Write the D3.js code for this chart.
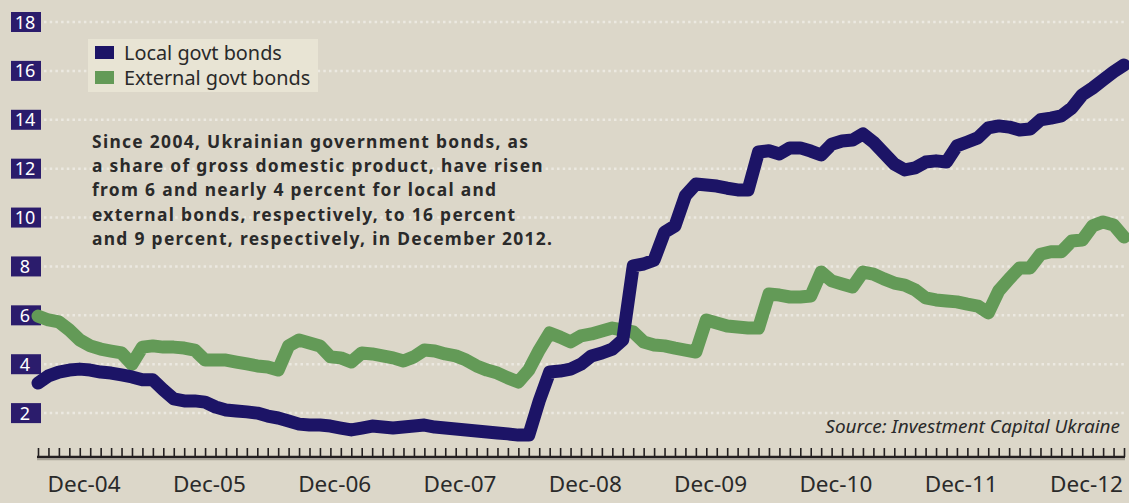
<!DOCTYPE html>
<html><head><meta charset="utf-8">
<script src="https://cdn.jsdelivr.net/npm/d3@7"></script>
<style>
html,body{margin:0;padding:0;background:#dcd7c9;}
svg{display:block;}
</style></head>
<body>
<svg id="chart" width="1129" height="503"></svg>
<script>
// ---- data ----
const startMonth = new Date(2004, 3, 1);   // April 2004
const endMonth = new Date(2012, 11, 1);    // December 2012
const months = d3.timeMonth.range(startMonth, d3.timeMonth.offset(endMonth, 1));
const monthKeys = months.map(d3.timeFormat("%Y-%m"));

const localBonds = [
 3.23,3.52,3.68,3.76,3.80,3.76,3.68,3.64,3.56,3.48,3.36,3.36,
 2.95,2.58,2.50,2.50,2.45,2.25,2.13,2.09,2.05,2.00,1.88,1.80,
 1.68,1.55,1.51,1.51,1.47,1.39,1.31,1.39,1.47,1.43,1.39,1.43,
 1.47,1.51,1.43,1.39,1.35,1.31,1.27,1.23,1.19,1.15,1.10,1.10,
 2.50,3.68,3.72,3.80,4.00,4.34,4.46,4.62,5.00,8.02,8.10,8.26,
 9.40,9.66,10.90,11.37,11.33,11.29,11.20,11.13,11.13,12.68,12.73,12.60,
 12.85,12.85,12.72,12.56,13.00,13.13,13.17,13.42,13.09,12.64,12.19,11.95,
 12.03,12.27,12.32,12.27,12.93,13.09,13.26,13.67,13.75,13.70,13.58,13.62,
 14.00,14.07,14.16,14.48,15.02,15.30,15.63,15.96,16.24
];
const externalBonds = [
 5.97,5.81,5.73,5.40,4.99,4.75,4.62,4.54,4.46,4.00,4.70,4.75,
 4.70,4.70,4.66,4.58,4.17,4.17,4.17,4.09,4.01,3.93,3.89,3.76,
 4.75,4.99,4.87,4.75,4.30,4.26,4.09,4.46,4.42,4.34,4.26,4.13,
 4.30,4.58,4.54,4.42,4.34,4.17,3.93,3.76,3.64,3.44,3.27,3.76,
 4.58,5.28,5.11,4.91,5.16,5.24,5.36,5.48,5.40,5.32,4.91,4.79,
 4.75,4.66,4.58,4.50,5.81,5.69,5.56,5.52,5.48,5.48,6.87,6.83,
 6.75,6.75,6.79,7.77,7.41,7.28,7.16,7.77,7.69,7.49,7.32,7.24,
 7.04,6.71,6.63,6.59,6.55,6.46,6.38,6.10,7.00,7.49,7.94,7.94,
 8.50,8.60,8.60,9.04,9.08,9.66,9.82,9.70,9.20
];
const yTicks = [2,4,6,8,10,12,14,16,18];
const xLabelMonths = ["2004-12","2005-12","2006-12","2007-12","2008-12","2009-12","2010-12","2011-12","2012-12"];
const xLabelText = ["Dec-04","Dec-05","Dec-06","Dec-07","Dec-08","Dec-09","Dec-10","Dec-11","Dec-12"];
const seriesNames = ["Local govt bonds","External govt bonds"];
const annotation = [
 "Since 2004, Ukrainian government bonds, as",
 "a share of gross domestic product, have risen",
 "from 6 and nearly 4 percent for local and",
 "external bonds, respectively, to 16 percent",
 "and 9 percent, respectively, in December 2012."
];
const sourceText = "Source: Investment Capital Ukraine";

// ---- styles ----
const C = {bg:"#dcd7c9", local:"#1c1466", ext:"#639a57", box:"#2b1c6c", grid:"#ece9e1", text:"#2a2a2a", legend:"#e8e4d4"};
const FONT = "'Noto Sans', 'Open Sans', sans-serif";

function fitWidth(sel, target) {
  const w = sel.node().getComputedTextLength();
  const fs = parseFloat(sel.attr("font-size"));
  if (w > 0) sel.attr("font-size", fs * target / w);
}

const svg = d3.select("#chart");
svg.append("rect").attr("width",1129).attr("height",503).attr("fill",C.bg);

const x = d3.scalePoint().domain(monthKeys).range([38, 1124]);
const y = d3.scaleLinear().domain([0,18]).range([462, 22]);

// gridlines
svg.append("g").selectAll("line").data(yTicks).join("line")
  .attr("x1",44).attr("x2",1126)
  .attr("y1",d=>y(d)).attr("y2",d=>y(d))
  .attr("stroke",C.grid).attr("stroke-width",2.5).attr("stroke-dasharray","2.5,3.2");

// y labels in boxes
const yl = svg.append("g").selectAll("g").data(yTicks).join("g")
  .attr("transform",d=>`translate(0,${y(d)})`);
yl.append("rect").attr("x",11).attr("y",-10).attr("width",30).attr("height",20).attr("fill",C.box);
yl.append("text").attr("x",25).attr("y",6.5).attr("text-anchor","middle")
  .attr("fill","#fff").attr("font-family",FONT).attr("font-size",18).text(d=>d);

// x axis
const axisY = 457;
svg.append("line").attr("x1",37).attr("x2",1125).attr("y1",axisY+2.5).attr("y2",axisY+2.5)
  .attr("stroke","#a9a598").attr("stroke-width",1.5);
const ax = svg.append("g").attr("transform",`translate(0,${axisY})`)
  .call(d3.axisBottom(x).tickSize(-9).tickSizeOuter(0).tickFormat(""));
ax.select(".domain").attr("stroke","#231f20").attr("stroke-width",2.6)
  .attr("d",`M${x(monthKeys[0])-1},0H${x(monthKeys[monthKeys.length-1])+1}`);
ax.selectAll(".tick line").attr("stroke","#231f20").attr("stroke-width",1.6);

const xl = svg.append("g").attr("font-family",FONT).attr("font-size",20).attr("fill",C.text);
xl.selectAll("text").data(xLabelMonths).join("text")
  .attr("x",d=>x(d)-1).attr("y",492).attr("text-anchor","end")
  .text((d,i)=>xLabelText[i]);
{ const w = xl.select("text").node().getComputedTextLength(); xl.attr("font-size", 20*73/w); }

// lines
const line = d3.line().x((d,i)=>x(monthKeys[i])).y(d=>y(d)).curve(d3.curveLinear);
svg.append("path").datum(externalBonds).attr("d",line).attr("fill","none")
  .attr("stroke",C.ext).attr("stroke-width",13).attr("stroke-linejoin","round").attr("stroke-linecap","round");
svg.append("path").datum(localBonds).attr("d",line).attr("fill","none")
  .attr("stroke",C.local).attr("stroke-width",13).attr("stroke-linejoin","round").attr("stroke-linecap","round");

// legend
const lg = svg.append("g");
lg.append("rect").attr("x",88).attr("y",39).attr("width",230).attr("height",53).attr("fill",C.legend);
const lgText = lg.append("g").attr("font-family",FONT).attr("font-size",20).attr("fill",C.text);
[C.local, C.ext].forEach((c,i)=>{
  lg.append("rect").attr("x",95).attr("y",46+i*25).attr("width",19).attr("height",13).attr("fill",c);
  lgText.append("text").attr("x",124).attr("y",60+i*24.5).text(seriesNames[i]);
});
{ const w = lgText.select("text").node().getComputedTextLength(); lgText.attr("font-size", 20*158/w); }

// annotation (font kept small enough that line boxes do not overlap; spacing widens it to the reference width)
const an = svg.append("g").attr("font-family",FONT).attr("font-weight","bold").attr("font-size",17.4).attr("fill",C.text);
an.selectAll("text").data(annotation).join("text")
  .attr("x",92).attr("y",(d,i)=>148+i*24.2)
  .text(d=>d);
{
  const first = an.select("text").node();
  const w = first.getComputedTextLength();
  const n = annotation[0].length;
  an.attr("letter-spacing", (436 - w) / (n - 1));
}

// source
const src = svg.append("text").attr("x",1120).attr("y",433).attr("text-anchor","end")
  .attr("font-family",FONT).attr("font-style","italic").attr("font-size",18).attr("fill",C.text)
  .text(sourceText);
fitWidth(src, 295);
</script>
</body></html>
